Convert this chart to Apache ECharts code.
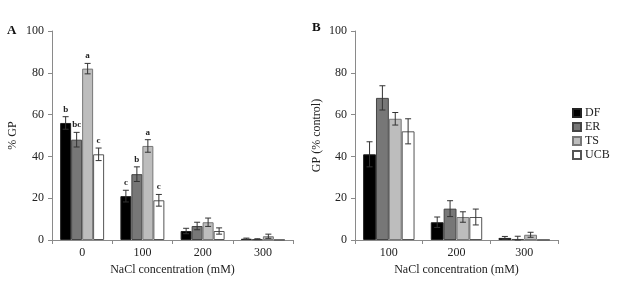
<!DOCTYPE html>
<html>
<head>
<meta charset="utf-8">
<script src="https://cdn.jsdelivr.net/npm/echarts@6/dist/echarts.min.js"></script>
<style>
  html, body { margin: 0; padding: 0; background: #fff; }
  #chart { width: 624px; height: 281px; }
</style>
</head>
<body>
<div id="chart"></div>
<script>
///////////////////////////////////////////////////
// Data
///////////////////////////////////////////////////
var seriesNames = ['DF', 'ER', 'TS', 'UCB'];

// Panel A : % GP vs NaCl
var categoriesA = ['0', '100', '200', '300'];
var dfA = [56, 21, 4.3, 0.6];
var erA = [48, 31.5, 6.7, 0.4];
var tsA = [82, 45, 8.5, 1.8];
var ucbA = [41, 19, 4.3, 0.1];
var dfAErr = [3, 2.8, 1.3, 0.3];
var erAErr = [3.5, 3.5, 1.8, 0.2];
var tsAErr = [2.5, 3, 2, 1];
var ucbAErr = [3, 2.8, 1.5, 0];
var dfALetters = ['b', 'c', '', ''];
var erALetters = ['bc', 'b', '', ''];
var tsALetters = ['a', 'a', '', ''];
var ucbALetters = ['c', 'c', '', ''];

// Panel B : GP (% control) vs NaCl
var categoriesB = ['100', '200', '300'];
var dfB = [41, 8.5, 1];
var erB = [68, 15, 0.5];
var tsB = [58, 11, 2.5];
var ucbB = [52, 11, 0.1];
var dfBErr = [6, 2.5, 0.7];
var erBErr = [5.8, 3.8, 1.3];
var tsBErr = [3, 2.5, 1.2];
var ucbBErr = [6, 3.8, 0];

var yTicks = [0, 20, 40, 60, 80, 100];

///////////////////////////////////////////////////
// Styling helpers
///////////////////////////////////////////////////
var serif = 'Liberation Serif';
var fills = ['#000000', '#777777', '#bdbdbd', '#ffffff'];
var borders = ['#222222', '#444444', '#777777', '#555555'];
var axisColor = '#8a8a8a';

function barSeries(name, idx, values, axisIdx, gap) {
  return {
    name: name,
    type: 'bar',
    xAxisIndex: axisIdx,
    yAxisIndex: axisIdx,
    data: values,
    barGap: 0,
    barCategoryGap: gap,
    itemStyle: { color: fills[idx], borderColor: borders[idx], borderWidth: 1 },
    emphasis: { disabled: true },
    z: 2
  };
}

// error bars + significance letters as one custom series per panel
function errorSeries(values, errs, letters, axisIdx, gapFrac) {
  var data = [];
  var labels = [];
  for (var s = 0; s < values.length; s++) {
    for (var c = 0; c < values[s].length; c++) {
      data.push([c, values[s][c], errs[s][c], s]);
      labels.push(letters ? letters[s][c] : '');
    }
  }
  return {
    type: 'custom',
    xAxisIndex: axisIdx,
    yAxisIndex: axisIdx,
    data: data,
    encode: { x: 0, y: 1 },
    z: 5,
    silent: true,
    renderItem: function (params, api) {
      var cat = api.value(0);
      var v = api.value(1);
      var e = api.value(2);
      var s = api.value(3);
      var catW = api.size([1, 0])[0];
      var barW = catW * (1 - gapFrac) / 4;
      var x = api.coord([cat, 0])[0] + (s - 1.5) * barW;
      var yTop = api.coord([cat, v + e])[1];
      var yBot = api.coord([cat, Math.max(v - e, 0)])[1];
      var cap = 3;
      var children = [];
      if (e > 0) {
        var st = { stroke: '#333', lineWidth: 1 };
        children.push({ type: 'line', shape: { x1: x, y1: yTop, x2: x, y2: yBot }, style: st });
        children.push({ type: 'line', shape: { x1: x - cap, y1: yTop, x2: x + cap, y2: yTop }, style: st });
        children.push({ type: 'line', shape: { x1: x - cap, y1: yBot, x2: x + cap, y2: yBot }, style: st });
      }
      var txt = labels[params.dataIndex];
      if (txt) {
        children.push({
          type: 'text',
          style: {
            text: txt, x: x, y: yTop - 3,
            align: 'center', verticalAlign: 'bottom',
            font: 'bold 9px "' + serif + '"', fill: '#222'
          }
        });
      }
      return { type: 'group', children: children };
    }
  };
}

function xAxisCfg(gridIdx, cats) {
  return {
    type: 'category',
    gridIndex: gridIdx,
    data: cats,
    name: 'NaCl concentration (mM)',
    nameLocation: 'middle',
    nameGap: 24,
    nameTextStyle: { fontFamily: serif, fontSize: 12, color: '#222' },
    axisLine: { lineStyle: { color: axisColor } },
    axisTick: { show: true, length: 4, lineStyle: { color: axisColor } },
    axisLabel: { fontFamily: serif, fontSize: 12, color: '#222', margin: 7 }
  };
}

function yAxisCfg(gridIdx, title, gap) {
  return {
    type: 'value',
    gridIndex: gridIdx,
    min: yTicks[0],
    max: yTicks[yTicks.length - 1],
    interval: yTicks[1] - yTicks[0],
    name: title,
    nameLocation: 'middle',
    nameGap: gap,
    nameTextStyle: { fontFamily: serif, fontSize: 12, color: '#222' },
    axisLine: { show: true, lineStyle: { color: axisColor } },
    axisTick: { show: true, length: 4, lineStyle: { color: axisColor } },
    axisLabel: { fontFamily: serif, fontSize: 12, color: '#222', margin: 8 },
    splitLine: { show: false }
  };
}

///////////////////////////////////////////////////
// Options
///////////////////////////////////////////////////
var gapA = 0.27;
var gapB = 0.24;

var valsA = [dfA, erA, tsA, ucbA];
var valsB = [dfB, erB, tsB, ucbB];

var series = [];
for (var i = 0; i < 4; i++) series.push(barSeries(seriesNames[i], i, valsA[i], 0, gapA * 100 + '%'));
for (var j = 0; j < 4; j++) series.push(barSeries(seriesNames[j], j, valsB[j], 1, gapB * 100 + '%'));
series.push(errorSeries(valsA, [dfAErr, erAErr, tsAErr, ucbAErr],
  [dfALetters, erALetters, tsALetters, ucbALetters], 0, gapA));
series.push(errorSeries(valsB, [dfBErr, erBErr, tsBErr, ucbBErr], null, 1, gapB));

var option = {
  animation: false,
  backgroundColor: '#fff',
  grid: [
    { left: 52, right: 331, top: 31, bottom: 39 },
    { left: 355, right: 66, top: 31, bottom: 39 }
  ],
  xAxis: [xAxisCfg(0, categoriesA), xAxisCfg(1, categoriesB)],
  yAxis: [yAxisCfg(0, '% GP', 33), yAxisCfg(1, 'GP (% control)', 32)],
  legend: {
    data: seriesNames,
    orient: 'vertical',
    left: 567,
    top: 102,
    itemWidth: 8,
    itemHeight: 8,
    itemGap: 2,
    icon: 'rect',
    selectedMode: false,
    textStyle: { fontFamily: serif, fontSize: 12, color: '#222', padding: [0, 0, 0, -1] }
  },
  graphic: [
    { type: 'text', left: 7, top: 24, style: { text: 'A', font: 'bold 13px "' + serif + '"', fill: '#111' } },
    { type: 'text', left: 312, top: 21, style: { text: 'B', font: 'bold 13px "' + serif + '"', fill: '#111' } }
  ],
  series: series
};

var myChart = echarts.init(document.getElementById('chart'), null, { renderer: 'canvas' });
myChart.setOption(option);
</script>
</body>
</html>
